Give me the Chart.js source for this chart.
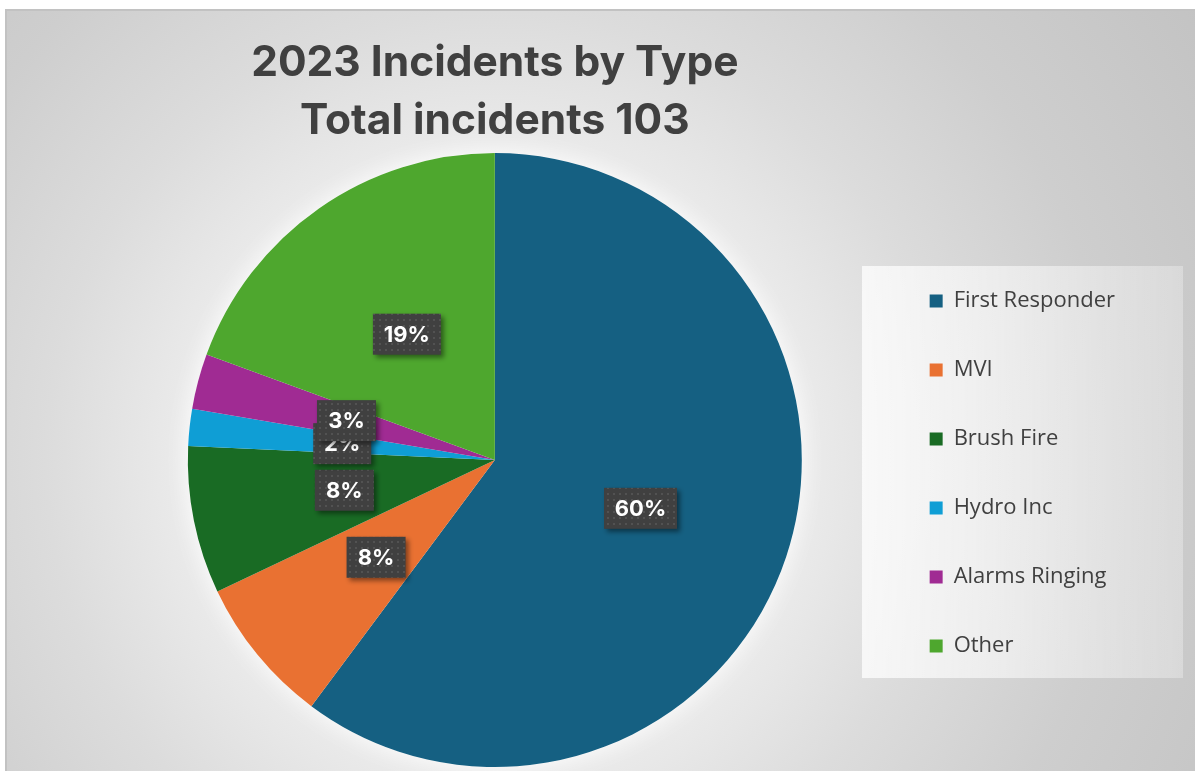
<!DOCTYPE html>
<html>
<head>
<meta charset="utf-8">
<title>2023 Incidents by Type</title>
<script src="https://cdn.jsdelivr.net/npm/chart.js@4.4.0/dist/chart.umd.min.js"></script>
<style>
    html, body { margin: 0; padding: 0; background: #ffffff; }
    #frame {
        position: absolute; left: 5px; top: 9px; width: 1190px; height: 762px;
        box-sizing: border-box;
        border-left: 2px solid #c2c2c2; border-top: 2px solid #c2c2c2;
        background: radial-gradient(circle 840px at 489px 451px,
            #fafafa 0px, #ececec 300px, #dcdcdc 450px, #cecece 620px, #c3c3c3 840px);
    }
    #wrap { position: absolute; left: 0; top: 0; width: 1195px; height: 771px; }
</style>
</head>
<body>
<div id="frame"></div>
<div id="wrap"><canvas id="incidentsChart"></canvas></div>

<script>
// Datos del gráfico
const TITLE_LINES = ['2023 Incidents by Type', 'Total incidents 103'];
const CATEGORIES = ['First Responder', 'MVI', 'Brush Fire', 'Hydro Inc', 'Alarms Ringing', 'Other'];
const INCIDENTS = [62, 8, 8, 2, 3, 20];
const COLORS = ['#156082', '#E97132', '#196B24', '#0F9ED5', '#A02B93', '#4EA72E'];

const TEXT_COLOR = '#404040';

/**
 * Patrón de fondo de las etiquetas (gris oscuro con puntitos).
 */
function labelPattern(ctx) {
    const tile = document.createElement('canvas');
    tile.width = 6; tile.height = 6;
    const t = tile.getContext('2d');
    t.fillStyle = '#404040';
    t.fillRect(0, 0, 6, 6);
    t.fillStyle = '#525252';
    t.fillRect(1, 1, 2, 2);
    return ctx.createPattern(tile, 'repeat');
}

// Brillo blanco alrededor del pastel
const pieGlow = {
    id: 'pieGlow',
    beforeDatasetsDraw(chart) {
        const arc = chart.getDatasetMeta(0).data[0];
        if (!arc) return;
        const { ctx } = chart;
        ctx.save();
        ctx.shadowColor = 'rgba(255,255,255,0.95)';
        ctx.shadowBlur = 24;
        ctx.fillStyle = '#ffffff';
        ctx.beginPath();
        ctx.arc(arc.x, arc.y, arc.outerRadius, 0, Math.PI * 2);
        ctx.fill();
        ctx.restore();
    }
};

// Panel claro detrás de la leyenda
const legendPanel = {
    id: 'legendPanel',
    beforeDraw(chart) {
        const { ctx } = chart;
        const x = 862, y = 266, w = 321, h = 412;
        const g = ctx.createLinearGradient(x, 0, x + w, 0);
        g.addColorStop(0, 'rgba(255,255,255,0.75)');
        g.addColorStop(1, 'rgba(255,255,255,0.3)');
        ctx.save();
        ctx.fillStyle = g;
        ctx.fillRect(x, y, w, h);
        ctx.restore();
    }
};

// Etiquetas de porcentaje en cada sector
const pctLabels = {
    id: 'pctLabels',
    afterDatasetsDraw(chart) {
        const { ctx } = chart;
        const meta = chart.getDatasetMeta(0);
        const values = chart.data.datasets[0].data;
        const total = values.reduce((a, b) => a + b, 0);
        const pattern = labelPattern(ctx);
        ctx.save();
        ctx.font = 'bold 22px Inter';
        ctx.textAlign = 'center';
        ctx.textBaseline = 'middle';
        meta.data.forEach((arc, i) => {
            const { x, y } = arc.tooltipPosition(true);
            const text = Math.round(values[i] / total * 100) + '%';
            const w = Math.round(ctx.measureText(text).width + 22);
            const h = 41;
            ctx.save();
            ctx.shadowColor = 'rgba(0,0,0,0.45)';
            ctx.shadowBlur = 5;
            ctx.shadowOffsetX = 3;
            ctx.shadowOffsetY = 3;
            ctx.fillStyle = pattern;
            ctx.fillRect(x - w / 2, y - h / 2, w, h);
            ctx.restore();
            ctx.fillStyle = '#ffffff';
            ctx.fillText(text, x, y + 1);
        });
        ctx.restore();
    }
};

new Chart(document.getElementById('incidentsChart'), {
    type: 'pie',
    data: {
        labels: CATEGORIES,
        datasets: [{
            data: INCIDENTS,
            backgroundColor: COLORS,
            borderWidth: 0
        }]
    },
    options: {
        responsive: true,
        maintainAspectRatio: false,
        animation: false,
        layout: { padding: { left: 107, right: 70, top: 10, bottom: 4 } },
        plugins: {
            title: {
                display: true,
                fullSize: false,
                text: TITLE_LINES,
                color: TEXT_COLOR,
                font: { family: 'Inter', size: 42.5, weight: 'bold', lineHeight: 1.365 },
                padding: { top: 24, bottom: 3 }
            },
            legend: {
                position: 'right',
                fullSize: false,
                // título vacío: sólo baja las entradas hasta su sitio
                title: { display: true, text: '', font: { size: 22.5 }, padding: 0 },
                labels: {
                    color: TEXT_COLOR,
                    font: { family: 'Open Sans', size: 22 },
                    boxWidth: 13,
                    boxHeight: 13,
                    padding: 47
                }
            },
            tooltip: { enabled: false }
        }
    },
    plugins: [legendPanel, pieGlow, pctLabels]
});
</script>
</body>
</html>
